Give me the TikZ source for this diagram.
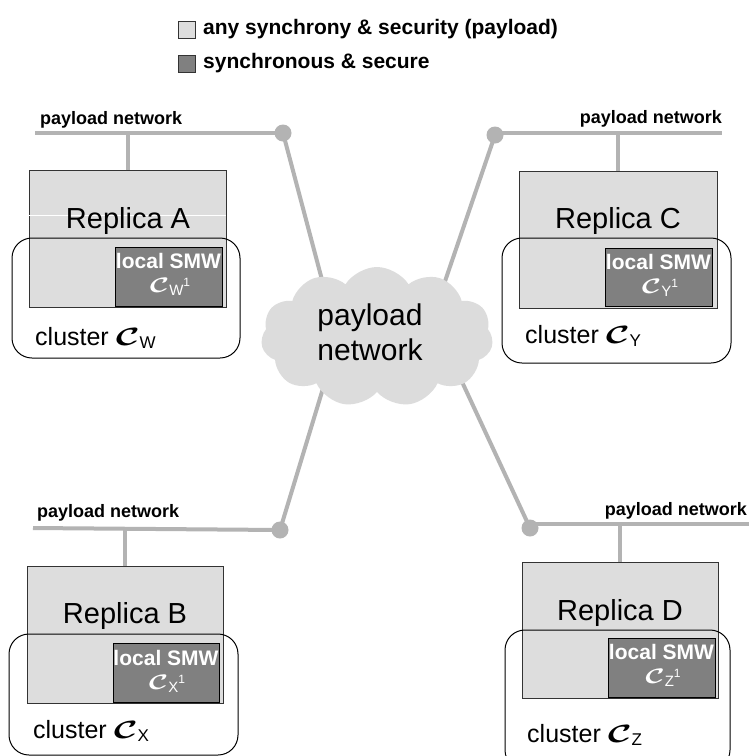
\RequirePackage{fix-cm}
\documentclass[tikz,border=0pt]{standalone}
\usepackage{fontspec}
\setmainfont{Liberation Sans}
\usepackage{bm}
\usepackage{graphicx}
\usetikzlibrary{shapes.symbols}

\definecolor{payload}{HTML}{DDDDDD}
\definecolor{secure}{HTML}{808080}
\definecolor{netgray}{HTML}{B3B3B3}
\definecolor{cloudgray}{HTML}{DCDCDC}

% script C with a sans subscript (cluster names)
\newcommand{\clusterC}[1]{\scalebox{1.45}[1]{$\bm{\mathcal{C}}$}\raisebox{-3pt}{\fontsize{17}{17}\selectfont #1}}
% script C with subscript and superscript 1 (local SMW)
\newcommand{\smwC}[1]{\scalebox{1.4}[1]{$\bm{\mathcal{C}}$}\raisebox{-3pt}{\fontsize{15}{15}\selectfont #1}\raisebox{6pt}{\fontsize{12}{12}\selectfont 1}}

\tikzset{
  replica/.style={draw=black!80, fill=payload, line width=0.8pt, inner sep=0pt, outer sep=0pt},
  smwbox/.style={draw=black, fill=secure, line width=1pt, inner sep=0pt, outer sep=0pt},
  clusterbox/.style={draw=black, line width=1pt, rounded corners=20pt, inner sep=0pt, outer sep=0pt},
  net/.style={draw=netgray, line width=4pt},
  netdot/.style={circle, fill=netgray, minimum size=17pt, inner sep=0pt, outer sep=0pt},
  netlabel/.style={font=\bfseries\fontsize{18}{18}\selectfont, inner sep=0pt},
  keybox/.style={draw=black!80, line width=0.8pt, minimum size=17pt, inner sep=0pt},
  keytext/.style={font=\bfseries\fontsize{21}{21}\selectfont, inner sep=0pt, anchor=base west},
  reptext/.style={font=\fontsize{29}{29}\selectfont, inner sep=0pt, anchor=base},
  smwtext/.style={font=\bfseries\fontsize{21}{21}\selectfont, text=white, inner sep=0pt, anchor=base},
  smwsym/.style={font=\fontsize{21}{21}\selectfont, text=white, inner sep=0pt, anchor=base},
  clustertext/.style={font=\fontsize{25}{25}\selectfont, inner sep=0pt, anchor=base west},
}

\begin{document}
\begin{tikzpicture}[x=1pt, y=-1pt]
\useasboundingbox[fill=white] (0,0) rectangle (749,756);

% legend
\node[keybox, fill=payload] (keyP) at (186.5,29.5) {};
\node[keytext] (keyPt) at (203,34) {any synchrony \& security (payload)};
\node[keybox, fill=secure] (keyS) at (186.5,63.5) {};
\node[keytext] (keySt) at (203,68) {synchronous \& secure};

% junction points of the four payload segments
\node[netdot] (dotA) at (283,133) {};
\node[netdot] (dotC) at (495,135) {};
\node[netdot] (dotB) at (280,530) {};
\node[netdot] (dotD) at (530,528) {};

% spokes into the cloud
\coordinate (spA) at (330,310);
\coordinate (spC) at (441,293);
\coordinate (spB) at (328,372);
\coordinate (spD) at (450,356);
\draw[net] (dotA.center) -- (spA);
\draw[net] (dotC.center) -- (spC);
\draw[net] (dotB.center) -- (spB);
\draw[net] (dotD.center) -- (spD);

% central payload network
\node[cloud, cloud puffs=11, cloud puff arc=115, aspect=1.65, fill=cloudgray,
      minimum width=232pt, minimum height=140pt, inner sep=0pt] (cloud) at (377,337) {};
\node[font=\fontsize{30}{35}\selectfont, align=center, inner sep=0pt] (cloudtext) at (370,332) {payload\\network};

% segment buses
\coordinate (busA) at (35,133);
\coordinate (busC) at (722,133);
\coordinate (busB) at (33,528);
\coordinate (busD) at (752,524);
\draw[net] (busA) -- (dotA.center);
\draw[net] (dotC.center) -- (dotC.center |- busC) -- (busC);
\draw[net] (busB) -- (dotB.center);
\draw[net] (dotD.center) -- (dotD.center |- busD) -- (busD);

\node[netlabel, anchor=base west] (labA) at (40,124) {payload network};
\node[netlabel, anchor=base east] (labC) at (722,123) {payload network};
\node[netlabel, anchor=base west] (labB) at (37,517) {payload network};
\node[netlabel, anchor=base east] (labD) at (747,515) {payload network};

% replicas
\node[replica, minimum width=197pt, minimum height=137pt] (repA) at (127.5,238.5) {};
\node[replica, minimum width=198pt, minimum height=137pt] (repC) at (618,239.5) {};
\node[replica, minimum width=196pt, minimum height=137pt] (repB) at (125,634.5) {};
\node[replica, minimum width=196pt, minimum height=136pt] (repD) at (620,630) {};

\draw[net] (repA.north) -- (repA.north |- busA);
\draw[net] (repC.north) -- (repC.north |- busC);
\draw[net] (repB.north) -- (repB.north |- busB);
\draw[net] (repD.north) -- (repD.north |- busD);

\draw[white, line width=0.8pt] (repA.west |- 0,215) -- (repA.east |- 0,215);

\node[reptext] (repAt) at (128,228) {Replica A};
\node[reptext] (repCt) at (618,228) {Replica C};
\node[reptext] (repBt) at (125,623) {Replica B};
\node[reptext] (repDt) at (620,620) {Replica D};

% clusters
\node[clusterbox, minimum width=228pt, minimum height=120pt] (clA) at (126,298) {};
\node[clusterbox, minimum width=229pt, minimum height=125pt] (clC) at (616.5,300.5) {};
\node[clusterbox, minimum width=229pt, minimum height=121pt] (clB) at (123.5,694.5) {};
\node[clusterbox, minimum width=225pt, minimum height=140pt] (clD) at (617.5,700) {};

\node[clustertext] (clAt) at (35,345) {cluster \clusterC{W}};
\node[clustertext] (clCt) at (525,343) {cluster \clusterC{Y}};
\node[clustertext] (clBt) at (33,738) {cluster \clusterC{X}};
\node[clustertext] (clDt) at (527,742) {cluster \clusterC{Z}};

% local synchronous middleware
\node[smwbox, minimum width=107pt, minimum height=59pt] (smwA) at (168.5,276.5) {};
\node[smwbox, minimum width=107pt, minimum height=58pt] (smwC) at (658.5,277) {};
\node[smwbox, minimum width=106pt, minimum height=59pt] (smwB) at (166,672.5) {};
\node[smwbox, minimum width=107pt, minimum height=59pt] (smwD) at (661.5,667.5) {};

\node[smwtext] (smwAt) at (168.5,268) {local SMW};
\node[smwtext] (smwCt) at (658.5,269) {local SMW};
\node[smwtext] (smwBt) at (166,665) {local SMW};
\node[smwtext] (smwDt) at (661.5,659) {local SMW};

\node[smwsym] (smwAs) at (170,292) {\smwC{W}};
\node[smwsym] (smwCs) at (660,293) {\smwC{Y}};
\node[smwsym] (smwBs) at (167,689) {\smwC{X}};
\node[smwsym] (smwDs) at (663,683) {\smwC{Z}};
\end{tikzpicture}
\end{document}
